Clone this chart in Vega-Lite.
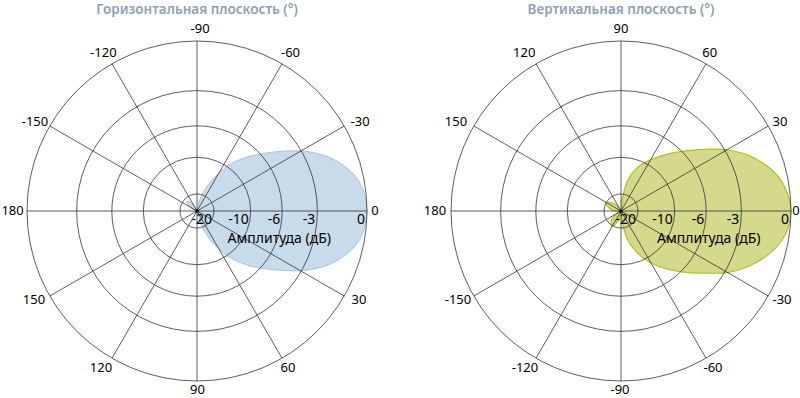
{
  "$schema": "https://vega.github.io/schema/vega-lite/v6.json",
  "padding": 0,
  "spacing": 13,
  "config": {"view": {"stroke": null}, "text": {"font": "Noto Sans"}},
  "resolve": {"scale": {"x": "independent", "y": "independent", "size": "independent"}},
  "datasets": {
    "rings": [{"x": 0, "y": 0, "r": 1}, {"x": 0, "y": 0, "r": 0.708}, {"x": 0, "y": 0, "r": 0.501}, {"x": 0, "y": 0, "r": 0.316}, {"x": 0, "y": 0, "r": 0.1}],
    "spokes": [
      {"x": 1, "y": 0, "x2": -1, "y2": 0},
      {"x": 0.866, "y": 0.5, "x2": -0.866, "y2": -0.5},
      {"x": 0.5, "y": 0.866, "x2": -0.5, "y2": -0.866},
      {"x": 0, "y": 1, "x2": 0, "y2": -1},
      {"x": -0.5, "y": 0.866, "x2": 0.5, "y2": -0.866},
      {"x": -0.866, "y": 0.5, "x2": 0.866, "y2": -0.5}
    ],
    "center": [{"x": 0, "y": 0}],
    "rlabels": [{"label": "-20", "x": 0.1, "y": 0}, {"label": "-10", "x": 0.316, "y": 0}, {"label": "-6", "x": 0.501, "y": 0}, {"label": "-3", "x": 0.708, "y": 0}, {"label": "0", "x": 1, "y": 0}],
    "hlabels": [
      {"label": "-90", "x": 0.018, "y": 1.071}, {"label": "-60", "x": 0.55, "y": 0.931}, {"label": "-30", "x": 0.959, "y": 0.524},
      {"label": "0", "x": 1.047, "y": 0}, {"label": "30", "x": 0.953, "y": -0.524}, {"label": "60", "x": 0.535, "y": -0.925},
      {"label": "90", "x": 0.003, "y": -1.053}, {"label": "120", "x": -0.565, "y": -0.925}, {"label": "150", "x": -0.959, "y": -0.524},
      {"label": "180", "x": -1.085, "y": 0}, {"label": "-150", "x": -0.953, "y": 0.524}, {"label": "-120", "x": -0.551, "y": 0.931}
    ],
    "vlabels": [
      {"label": "90", "x": 0, "y": 1.071}, {"label": "60", "x": 0.522, "y": 0.931}, {"label": "30", "x": 0.935, "y": 0.524},
      {"label": "0", "x": 1.029, "y": 0}, {"label": "-30", "x": 0.947, "y": -0.524}, {"label": "-60", "x": 0.541, "y": -0.925},
      {"label": "-90", "x": -0.006, "y": -1.053}, {"label": "-120", "x": -0.565, "y": -0.925}, {"label": "-150", "x": -0.959, "y": -0.524},
      {"label": "180", "x": -1.094, "y": 0}, {"label": "150", "x": -0.971, "y": 0.524}, {"label": "120", "x": -0.569, "y": 0.931}
    ],
    "hamp": [{"label": "Амплитуда (дБ)", "x": 0.484, "y": -0.165}],
    "vamp": [{"label": "Амплитуда (дБ)", "x": 0.516, "y": -0.165}],
    "htitle": [{"label": "Горизонтальная плоскость (°)", "x": 0, "y": 1.185}],
    "vtitle": [{"label": "Вертикальная плоскость (°)", "x": 0, "y": 1.185}],
    "hpat": [
      {"i": 0, "x": 1.0, "y": 0}, {"i": 1, "x": 0.99, "y": 0.08}, {"i": 2, "x": 0.955, "y": 0.17}, {"i": 3, "x": 0.885, "y": 0.25},
      {"i": 4, "x": 0.78, "y": 0.315}, {"i": 5, "x": 0.66, "y": 0.348}, {"i": 6, "x": 0.576, "y": 0.354}, {"i": 7, "x": 0.47, "y": 0.349},
      {"i": 8, "x": 0.381, "y": 0.337}, {"i": 9, "x": 0.282, "y": 0.313}, {"i": 10, "x": 0.184, "y": 0.268}, {"i": 11, "x": 0.106, "y": 0.2},
      {"i": 12, "x": 0.045, "y": 0.125}, {"i": 13, "x": 0.013, "y": 0.055}, {"i": 14, "x": 0, "y": 0},
      {"i": 15, "x": -0.014, "y": 0.026}, {"i": 16, "x": -0.038, "y": 0.05}, {"i": 17, "x": -0.062, "y": 0.058}, {"i": 18, "x": -0.05, "y": 0.033},
      {"i": 19, "x": -0.026, "y": 0.012}, {"i": 20, "x": 0, "y": 0}, {"i": 21, "x": 0.02, "y": -0.065},
      {"i": 22, "x": 0.06, "y": -0.145}, {"i": 23, "x": 0.11, "y": -0.205}, {"i": 24, "x": 0.184, "y": -0.268}, {"i": 25, "x": 0.282, "y": -0.313},
      {"i": 26, "x": 0.381, "y": -0.337}, {"i": 27, "x": 0.47, "y": -0.347}, {"i": 28, "x": 0.576, "y": -0.352}, {"i": 29, "x": 0.66, "y": -0.346},
      {"i": 30, "x": 0.78, "y": -0.313}, {"i": 31, "x": 0.885, "y": -0.25}, {"i": 32, "x": 0.955, "y": -0.17}, {"i": 33, "x": 0.99, "y": -0.08},
      {"i": 34, "x": 1.0, "y": 0}
    ],
    "vpat": [
      {"i": 0, "x": 1.0, "y": 0}, {"i": 1, "x": 0.986, "y": 0.084}, {"i": 2, "x": 0.945, "y": 0.175}, {"i": 3, "x": 0.865, "y": 0.26},
      {"i": 4, "x": 0.745, "y": 0.329}, {"i": 5, "x": 0.628, "y": 0.359}, {"i": 6, "x": 0.529, "y": 0.364}, {"i": 7, "x": 0.392, "y": 0.355},
      {"i": 8, "x": 0.275, "y": 0.335}, {"i": 9, "x": 0.176, "y": 0.302}, {"i": 10, "x": 0.098, "y": 0.258}, {"i": 11, "x": 0.039, "y": 0.18},
      {"i": 12, "x": 0.006, "y": 0.06}, {"i": 13, "x": 0, "y": 0},
      {"i": 14, "x": -0.024, "y": 0.032}, {"i": 15, "x": -0.058, "y": 0.05}, {"i": 16, "x": -0.088, "y": 0.046}, {"i": 17, "x": -0.07, "y": 0.018},
      {"i": 18, "x": -0.034, "y": 0.0}, {"i": 19, "x": 0, "y": 0},
      {"i": 20, "x": -0.034, "y": -0.022}, {"i": 21, "x": -0.057, "y": -0.057}, {"i": 22, "x": -0.05, "y": -0.088}, {"i": 23, "x": -0.026, "y": -0.07},
      {"i": 24, "x": -0.008, "y": -0.035}, {"i": 25, "x": 0, "y": 0},
      {"i": 26, "x": 0.006, "y": -0.058}, {"i": 27, "x": 0.039, "y": -0.17}, {"i": 28, "x": 0.098, "y": -0.248}, {"i": 29, "x": 0.176, "y": -0.306},
      {"i": 30, "x": 0.275, "y": -0.342}, {"i": 31, "x": 0.392, "y": -0.362}, {"i": 32, "x": 0.529, "y": -0.366}, {"i": 33, "x": 0.628, "y": -0.362},
      {"i": 34, "x": 0.745, "y": -0.328}, {"i": 35, "x": 0.865, "y": -0.258}, {"i": 36, "x": 0.945, "y": -0.175}, {"i": 37, "x": 0.986, "y": -0.09},
      {"i": 38, "x": 1.0, "y": 0}
    ]
  },
  "hconcat": [
    {
      "width": 410,
      "height": 398,
      "layer": [
        {
          "data": {"name": "hpat"},
          "mark": {"type": "line", "interpolate": "catmull-rom", "fill": "#c7dbea", "stroke": "#a6c4da", "strokeWidth": 1},
          "encoding": {
            "x": {"field": "x", "type": "quantitative", "scale": {"domain": [-1.1588, 1.2529], "nice": false, "zero": false}, "axis": null},
            "y": {"field": "y", "type": "quantitative", "scale": {"domain": [-1.1, 1.2412], "nice": false, "zero": false}, "axis": null},
            "order": {"field": "i", "type": "quantitative"}
          }
        },
        {
          "data": {"name": "spokes"},
          "mark": {"type": "rule", "color": "#333333", "strokeWidth": 0.8},
          "encoding": {
            "x": {"field": "x", "type": "quantitative"}, "y": {"field": "y", "type": "quantitative"},
            "x2": {"field": "x2"}, "y2": {"field": "y2"}
          }
        },
        {
          "data": {"name": "rings"},
          "mark": {"type": "point", "shape": "circle", "filled": false, "color": "#333333", "strokeWidth": 0.8, "opacity": 1},
          "encoding": {
            "x": {"field": "x", "type": "quantitative"}, "y": {"field": "y", "type": "quantitative"},
            "size": {"field": "r", "type": "quantitative", "scale": {"type": "pow", "exponent": 2, "domain": [0, 1], "range": [0, 115600]}, "legend": null}
          }
        },
        {
          "data": {"name": "center"},
          "mark": {"type": "point", "shape": "circle", "filled": true, "color": "#000000", "size": 12, "opacity": 1},
          "encoding": {"x": {"field": "x", "type": "quantitative"}, "y": {"field": "y", "type": "quantitative"}}
        },
        {
          "data": {"name": "rlabels"},
          "mark": {"type": "text", "align": "right", "baseline": "top", "dx": -2, "dy": 2, "fontSize": 14, "color": "#000000"},
          "encoding": {"x": {"field": "x", "type": "quantitative"}, "y": {"field": "y", "type": "quantitative"}, "text": {"field": "label"}}
        },
        {
          "data": {"name": "hlabels"},
          "mark": {"type": "text", "align": "center", "baseline": "middle", "fontSize": 13, "color": "#000000"},
          "encoding": {"x": {"field": "x", "type": "quantitative"}, "y": {"field": "y", "type": "quantitative"}, "text": {"field": "label"}}
        },
        {
          "data": {"name": "hamp"},
          "mark": {"type": "text", "align": "center", "baseline": "middle", "fontSize": 14, "color": "#000000"},
          "encoding": {"x": {"field": "x", "type": "quantitative"}, "y": {"field": "y", "type": "quantitative"}, "text": {"field": "label"}}
        },
        {
          "data": {"name": "htitle"},
          "mark": {"type": "text", "align": "center", "baseline": "middle", "fontSize": 13.5, "fontWeight": 600, "color": "#8ca0b3"},
          "encoding": {"x": {"field": "x", "type": "quantitative"}, "y": {"field": "y", "type": "quantitative"}, "text": {"field": "label"}}
        }
      ]
    },
    {
      "width": 377,
      "height": 398,
      "layer": [
        {
          "data": {"name": "vpat"},
          "mark": {"type": "line", "interpolate": "catmull-rom", "fill": "#d5d98b", "stroke": "#b5bf25", "strokeWidth": 1.2},
          "encoding": {
            "x": {"field": "x", "type": "quantitative", "scale": {"domain": [-1.1588, 1.0588], "nice": false, "zero": false}, "axis": null},
            "y": {"field": "y", "type": "quantitative", "scale": {"domain": [-1.1, 1.2412], "nice": false, "zero": false}, "axis": null},
            "order": {"field": "i", "type": "quantitative"}
          }
        },
        {
          "data": {"name": "spokes"},
          "mark": {"type": "rule", "color": "#333333", "strokeWidth": 0.8},
          "encoding": {
            "x": {"field": "x", "type": "quantitative"}, "y": {"field": "y", "type": "quantitative"},
            "x2": {"field": "x2"}, "y2": {"field": "y2"}
          }
        },
        {
          "data": {"name": "rings"},
          "mark": {"type": "point", "shape": "circle", "filled": false, "color": "#333333", "strokeWidth": 0.8, "opacity": 1},
          "encoding": {
            "x": {"field": "x", "type": "quantitative"}, "y": {"field": "y", "type": "quantitative"},
            "size": {"field": "r", "type": "quantitative", "scale": {"type": "pow", "exponent": 2, "domain": [0, 1], "range": [0, 115600]}, "legend": null}
          }
        },
        {
          "data": {"name": "center"},
          "mark": {"type": "point", "shape": "circle", "filled": true, "color": "#000000", "size": 12, "opacity": 1},
          "encoding": {"x": {"field": "x", "type": "quantitative"}, "y": {"field": "y", "type": "quantitative"}}
        },
        {
          "data": {"name": "rlabels"},
          "mark": {"type": "text", "align": "right", "baseline": "top", "dx": -2, "dy": 2, "fontSize": 14, "color": "#000000"},
          "encoding": {"x": {"field": "x", "type": "quantitative"}, "y": {"field": "y", "type": "quantitative"}, "text": {"field": "label"}}
        },
        {
          "data": {"name": "vlabels"},
          "mark": {"type": "text", "align": "center", "baseline": "middle", "fontSize": 13, "color": "#000000"},
          "encoding": {"x": {"field": "x", "type": "quantitative"}, "y": {"field": "y", "type": "quantitative"}, "text": {"field": "label"}}
        },
        {
          "data": {"name": "vamp"},
          "mark": {"type": "text", "align": "center", "baseline": "middle", "fontSize": 14, "color": "#000000"},
          "encoding": {"x": {"field": "x", "type": "quantitative"}, "y": {"field": "y", "type": "quantitative"}, "text": {"field": "label"}}
        },
        {
          "data": {"name": "vtitle"},
          "mark": {"type": "text", "align": "center", "baseline": "middle", "fontSize": 13.5, "fontWeight": 600, "color": "#8ca0b3"},
          "encoding": {"x": {"field": "x", "type": "quantitative"}, "y": {"field": "y", "type": "quantitative"}, "text": {"field": "label"}}
        }
      ]
    }
  ]
}
